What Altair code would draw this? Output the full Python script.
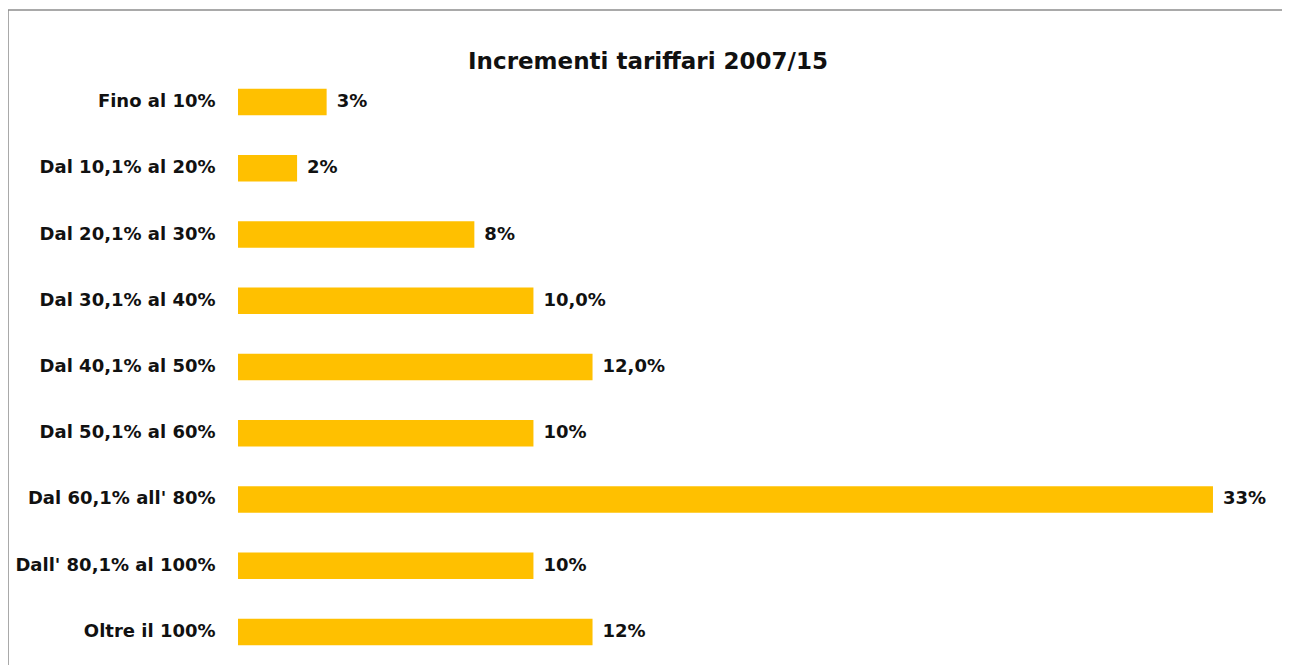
import altair as alt
import pandas as pd

title_text = "Incrementi tariffari 2007/15"
categories = ["Fino al 10%", "Dal 10,1% al 20%", "Dal 20,1% al 30%", "Dal 30,1% al 40%",
              "Dal 40,1% al 50%", "Dal 50,1% al 60%", "Dal 60,1% all' 80%",
              "Dall' 80,1% al 100%", "Oltre il 100%"]
values = [3, 2, 8, 10, 12, 10, 33, 10, 12]
labels = ["3%", "2%", "8%", "10,0%", "12,0%", "10%", "33%", "10%", "12%"]

df = pd.DataFrame({"cat": categories, "val": values, "lab": labels})

FONT = "DejaVu Sans"
W, H = 1032, 596

base = alt.Chart(df).encode(
    y=alt.Y("cat:N", sort=categories,
            scale=alt.Scale(paddingInner=0.6, paddingOuter=0.3),
            axis=alt.Axis(title=None, domain=False, ticks=False, labelPadding=23,
                          labelFontSize=18, labelFontWeight="bold", labelColor="#111111",
                          labelFont=FONT, labelLimit=400)),
    x=alt.X("val:Q", scale=alt.Scale(domain=[0, 34.93]), axis=None),
)

bars = base.mark_bar(color="#FFC000")
text = base.mark_text(align="left", baseline="middle", dx=10, fontSize=18,
                      fontWeight="bold", color="#111111", font=FONT).encode(text="lab:N")

one = pd.DataFrame({"t": [title_text]})
title = alt.Chart(one).mark_text(align="center", baseline="middle", fontSize=23,
                                 fontWeight="bold", color="#111111", font=FONT).encode(
    text="t:N", x=alt.value(410), y=alt.value(-7))

frame_left = alt.Chart(one).mark_rule(color="#8c8c8c", strokeWidth=1.5).encode(
    x=alt.value(-230), y=alt.value(-59), y2=alt.value(H + 20))
frame_top = alt.Chart(one).mark_rule(color="#8c8c8c", strokeWidth=1.5).encode(
    x=alt.value(-230), x2=alt.value(1051), y=alt.value(-59))

chart = alt.layer(bars, text, title, frame_left, frame_top).properties(
    width=W, height=H,
    autosize=alt.AutoSizeParams(type="none"),
    padding={"left": 230, "top": 61, "right": 12, "bottom": 0},
).configure_view(stroke=None)

chart.save("out.html", embed_options={"renderer": "svg", "actions": False})
